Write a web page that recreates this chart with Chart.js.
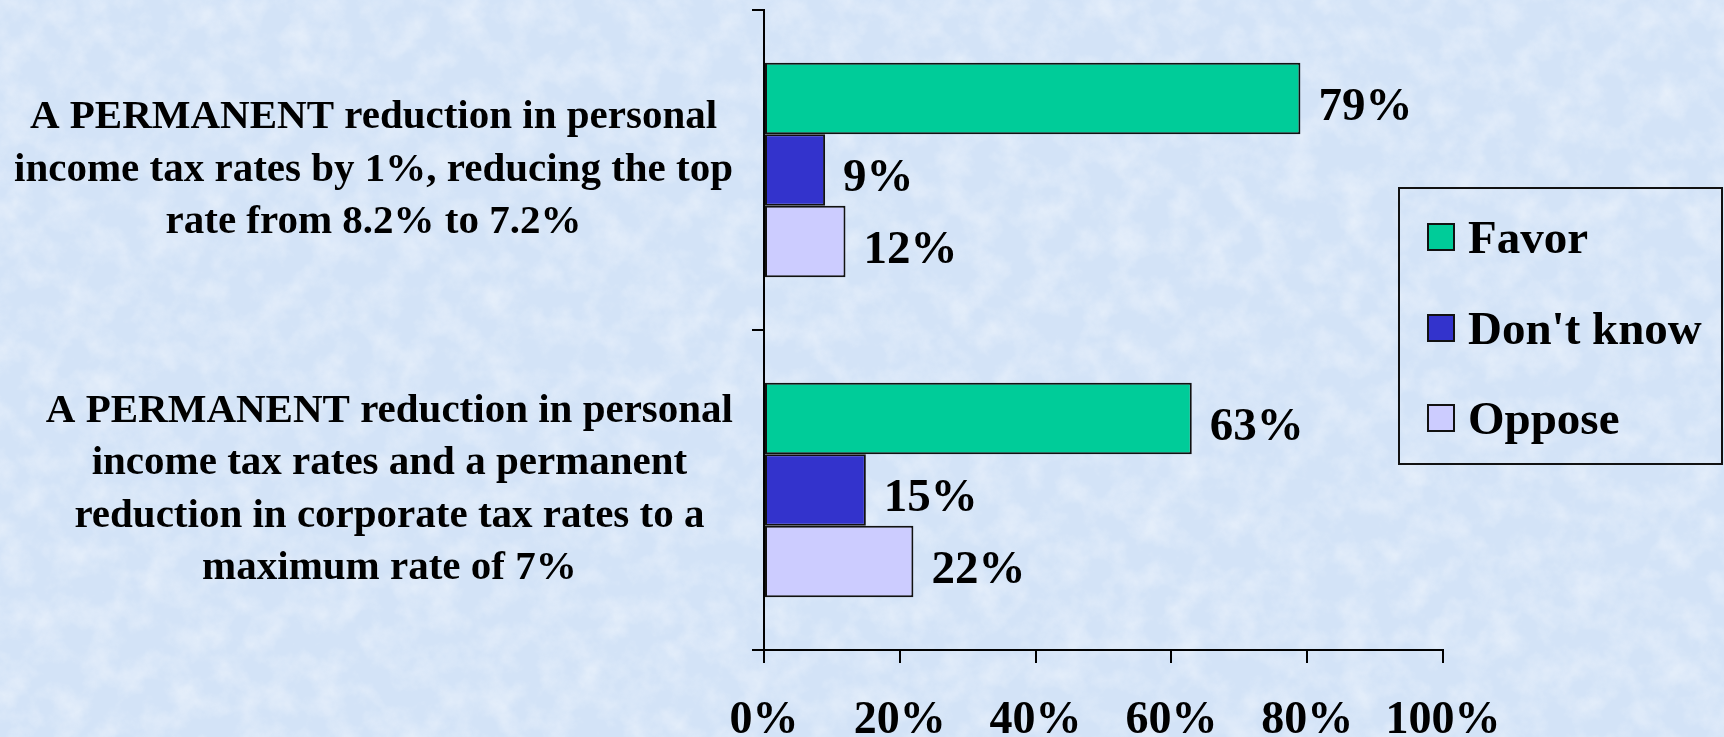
<!DOCTYPE html>
<html>
<head>
<meta charset="utf-8">
<title>Permanent tax reduction: Favor / Don't know / Oppose</title>
<script src="https://cdn.jsdelivr.net/npm/chart.js@4.4.1/dist/chart.umd.min.js"></script>
<style>
  html, body { margin: 0; padding: 0; }
  body {
    width: 1724px; height: 737px; overflow: hidden; position: relative;
    background-color: #d3e3f7;
    background-image: url("data:image/svg+xml,<svg xmlns='http://www.w3.org/2000/svg' width='1724' height='737'><filter id='n'><feTurbulence type='fractalNoise' baseFrequency='0.035' numOctaves='4' seed='7'/><feColorMatrix values='0 0 0 0 1  0 0 0 0 1  0 0 0 0 1  1.3 0 0 0 -0.5'/></filter><rect width='100%' height='100%' filter='url(%23n)' opacity='0.6'/></svg>");
    font-family: "Liberation Serif", "Times New Roman", serif;
  }
  #chart { position: absolute; left: 0; top: 0; }
  #legend {
    position: absolute; left: 1398px; top: 187px;
    width: 321px; height: 274px; border: 2px solid #111;
  }
  #legend .item {
    position: absolute; left: 27px; height: 50px;
    display: flex; align-items: center;
    font-size: 47px; font-weight: bold; color: #000; white-space: nowrap;
  }
  #legend .swatch { width: 24px; height: 24px; border: 2px solid #111; margin-right: 13px; }
</style>
</head>
<body>
<canvas id="chart" width="1724" height="737"></canvas>
<div id="legend"></div>
<script>
// survey data
var categories = [
    ['A PERMANENT reduction in personal', 'income tax rates by 1%, reducing the top', 'rate from 8.2% to 7.2%'],
    ['A PERMANENT reduction in personal', 'income tax rates and a permanent', 'reduction in corporate tax rates to a', 'maximum rate of 7%']
];
var seriesNames = ['Favor', "Don't know", 'Oppose'];
var favorValues = [79, 63];
var dontKnowValues = [9, 15];
var opposeValues = [12, 22];
var seriesColors = ['#00cc99', '#3333cc', '#ccccff'];
var xTicks = [0, 20, 40, 60, 80, 100];

var FONT = '"Liberation Serif", "Times New Roman", serif';

// draw "79%" etc. right of each bar
var valueLabels = {
    id: 'valueLabels',
    afterDatasetsDraw: function(chart) {
        var ctx = chart.ctx;
        ctx.save();
        ctx.font = 'bold 47px ' + FONT;
        ctx.fillStyle = '#000';
        ctx.textAlign = 'left';
        ctx.textBaseline = 'middle';
        chart.data.datasets.forEach(function(ds, i) {
            chart.getDatasetMeta(i).data.forEach(function(bar, j) {
                ctx.fillText(ds.data[j] + '%', bar.x + 18, bar.y + 9);
            });
        });
        ctx.restore();
    }
};

// category text: each block right-aligned to the axis, lines centred inside the block
var categoryLabels = {
    id: 'categoryLabels',
    afterDraw: function(chart) {
        var ctx = chart.ctx;
        var yScale = chart.scales.y;
        var lineH = 52.5;
        var blockRight = chart.chartArea.left - 31;
        ctx.save();
        ctx.font = 'bold 41px ' + FONT;
        ctx.fillStyle = '#000';
        ctx.textAlign = 'center';
        ctx.textBaseline = 'middle';
        categories.forEach(function(lines, i) {
            var widest = 0;
            lines.forEach(function(l) { widest = Math.max(widest, ctx.measureText(l).width); });
            var cx = blockRight - widest / 2;
            var cy = yScale.getPixelForValue(i);
            lines.forEach(function(l, k) {
                ctx.fillText(l, cx, cy + (k - (lines.length - 1) / 2) * lineH);
            });
        });
        ctx.restore();
    }
};

function makeDataset(idx, values) {
    return {
        label: seriesNames[idx],
        data: values,
        backgroundColor: seriesColors[idx],
        borderColor: '#111',
        borderWidth: 2,
        borderSkipped: false,
        categoryPercentage: 0.67,
        barPercentage: 1
    };
}

new Chart(document.getElementById('chart'), {
    type: 'bar',
    data: {
        labels: categories,
        datasets: [
            makeDataset(0, favorValues),
            makeDataset(1, dontKnowValues),
            makeDataset(2, opposeValues)
        ]
    },
    options: {
        responsive: false,
        animation: false,
        indexAxis: 'y',
        layout: { padding: { left: 0, right: 281, top: 10, bottom: 0 } },
        scales: {
            x: {
                min: 0,
                max: 100,
                afterBuildTicks: function(scale) {
                    scale.ticks = xTicks.map(function(v) { return { value: v }; });
                },
                afterFit: function(scale) {
                    scale.height = 87;
                },
                grid: { drawOnChartArea: false, color: '#000', lineWidth: 2, tickLength: 13 },
                border: { display: true, color: '#000', width: 2 },
                ticks: {
                    color: '#000',
                    padding: 35,
                    maxRotation: 0,
                    autoSkip: false,
                    callback: function(v) { return v + '%'; },
                    font: { family: FONT, size: 46, weight: 'bold', lineHeight: 1 }
                }
            },
            y: {
                afterFit: function(scale) {
                    // labels are drawn by categoryLabels; keep the axis at its slide position
                    scale.width = 764;
                    scale.paddingTop = 0;
                    scale.paddingBottom = 0;
                },
                grid: { drawOnChartArea: false, color: '#000', lineWidth: 2, tickLength: 12 },
                border: { display: true, color: '#000', width: 2 },
                ticks: { display: false }
            }
        },
        plugins: {
            legend: { display: false },
            tooltip: { enabled: false }
        }
    },
    plugins: [valueLabels, categoryLabels]
});

// legend box on the right
var legendEl = document.getElementById('legend');
seriesNames.forEach(function(name, i) {
    var item = document.createElement('div');
    item.className = 'item';
    item.style.top = (23 + i * 90.5) + 'px';
    var sw = document.createElement('span');
    sw.className = 'swatch';
    sw.style.background = seriesColors[i];
    var txt = document.createElement('span');
    txt.textContent = name;
    item.appendChild(sw);
    item.appendChild(txt);
    legendEl.appendChild(item);
});
</script>
</body>
</html>
